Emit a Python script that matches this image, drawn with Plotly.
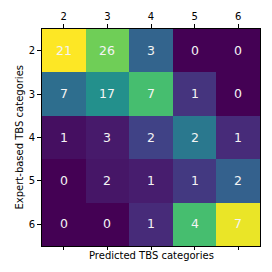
import plotly.graph_objects as go

categories = ["2", "3", "4", "5", "6"]
counts = [
    [21, 26, 3, 0, 0],
    [7, 17, 7, 1, 0],
    [1, 3, 2, 2, 1],
    [0, 2, 1, 1, 2],
    [0, 0, 1, 4, 7],
]
# colour intensity as seen in the picture (0..1 on viridis)
shade = [
    [1.00, 0.78, 0.32, 0.00, 0.00],
    [0.36, 0.50, 0.70, 0.15, 0.00],
    [0.04, 0.07, 0.20, 0.40, 0.12],
    [0.00, 0.06, 0.08, 0.17, 0.31],
    [0.00, 0.00, 0.12, 0.70, 0.97],
]
x_title = "Predicted TBS categories"
y_title = "Expert-based TBS categories"

font = dict(family="DejaVu Sans", size=10, color="black")

fig = go.Figure()
fig.add_trace(go.Heatmap(
    z=shade, x=categories, y=categories,
    text=[[str(v) for v in row] for row in counts],
    texttemplate="%{text}",
    textfont=dict(family="DejaVu Sans", size=12.5, color="#f4f4f4"),
    colorscale="Viridis", zmin=0, zmax=1, showscale=False,
    xgap=0, ygap=0, hoverinfo="skip",
))
# invisible trace for bottom axis with ticks only
fig.add_trace(go.Scatter(x=categories, y=categories, xaxis="x2", mode="markers",
                         marker=dict(opacity=0), showlegend=False, hoverinfo="skip"))

fig.update_layout(
    width=272, height=272,
    margin=dict(l=42, r=12, t=29, b=26),
    paper_bgcolor="white", plot_bgcolor="white",
    font=font,
    showlegend=False,
    xaxis=dict(
        side="top", type="category", tickfont=font,
        ticks="outside", ticklen=4, tickcolor="black", tickwidth=1,
        showline=True, linecolor="black", linewidth=1, mirror=True,
        showgrid=False, zeroline=False, range=[-0.5, 4.5],
    ),
    xaxis2=dict(
        side="bottom", overlaying="x", type="category",
        ticks="outside", ticklen=3, tickcolor="black", showticklabels=False,
        showgrid=False, zeroline=False, range=[-0.5, 4.5],
    ),
    yaxis=dict(
        type="category", autorange=False, range=[4.5, -0.5], tickfont=font,
        ticks="outside", ticklen=4, tickcolor="black", tickwidth=1,
        showline=True, linecolor="black", linewidth=1, mirror=True,
        showgrid=False, zeroline=False,
    ),
    annotations=[
        dict(text=x_title, xref="paper", yref="paper", x=0.5, y=0,
             xanchor="center", yanchor="top", yshift=-2, showarrow=False, font=font),
        dict(text=y_title, xref="paper", yref="paper", x=-0.101, y=0.5,
             xanchor="center", yanchor="middle", textangle=-90, showarrow=False, font=font),
    ],
)
fig.write_html("out.html", config={"displayModeBar": False},
               post_script="document.body.style.margin='0';")
